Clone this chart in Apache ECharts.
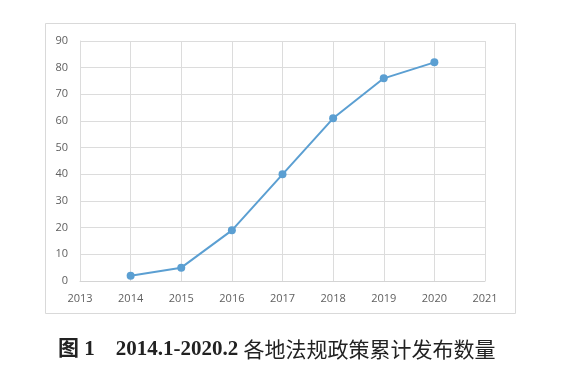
<!DOCTYPE html>
<html><head><meta charset="utf-8">
<script src="https://cdn.jsdelivr.net/npm/echarts@6/dist/echarts.min.js"></script>
<style>html,body{margin:0;padding:0;background:#fff}#c{width:569px;height:368px}</style>
</head><body><div id="c"></div>
<script>
const years = [2014, 2015, 2016, 2017, 2018, 2019, 2020];
const counts = [2, 5, 19, 40, 61, 76, 82];
const xMin = 2013, xMax = 2021;
const yMin = 0, yMax = 90, yStep = 10;
const captionA = '图 1    2014.1-2020.2 ';
const captionB = '各地法规政策累计发布数量';

const chart = echarts.init(document.getElementById('c'));
chart.setOption({
  backgroundColor: '#fff',
  animation: false,
  grid: {left: 80, right: 84, top: 41, bottom: 87},
  graphic: [{
    type: 'rect', shape: {x: 45.5, y: 23.5, width: 470, height: 290},
    style: {fill: 'none', stroke: '#d9d9d9', lineWidth: 1}, z: 0
  }],
  title: {
    text: '{a|' + captionA + '}{b|' + captionB + '}',
    left: 53, top: 334,
    textStyle: {rich: {
      a: {fontFamily: '"Liberation Serif", "Noto Sans CJK SC", serif', fontWeight: 'bold', fontSize: 21, color: '#222'},
      b: {fontFamily: '"Noto Sans CJK SC", sans-serif', fontWeight: 'normal', fontSize: 21, color: '#222'}
    }}
  },
  xAxis: {
    type: 'value', min: xMin, max: xMax, interval: 1,
    axisLine: {show: true, lineStyle: {color: '#d4d4d4'}},
    axisTick: {show: false},
    splitLine: {show: true, lineStyle: {color: '#dcdcdc'}},
    axisLabel: {color: '#5f5f5f', fontSize: 11, fontFamily: '"Open Sans", sans-serif', margin: 12, formatter: v => String(v)}
  },
  yAxis: {
    type: 'value', min: yMin, max: yMax, interval: yStep,
    axisLine: {show: true, lineStyle: {color: '#dcdcdc'}},
    axisTick: {show: false},
    splitLine: {show: true, lineStyle: {color: '#dcdcdc'}},
    axisLabel: {color: '#5f5f5f', fontSize: 11, fontFamily: '"Open Sans", sans-serif', margin: 12}
  },
  series: [{
    type: 'line',
    data: years.map((y, i) => [y, counts[i]]),
    symbol: 'circle', symbolSize: 8,
    lineStyle: {color: '#5b9fd2', width: 2},
    itemStyle: {color: '#5b9fd2'}
  }]
});
</script></body></html>
